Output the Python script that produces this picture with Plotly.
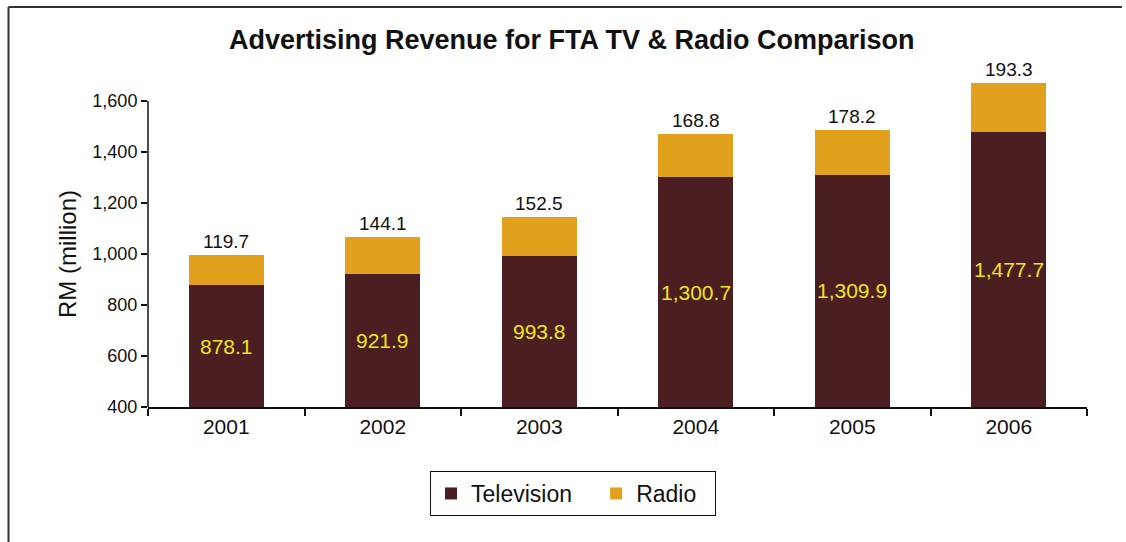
import plotly.graph_objects as go

# Advertising revenue (RM million), free-to-air TV and radio
years = ["2001", "2002", "2003", "2004", "2005", "2006"]
television = [878.1, 921.9, 993.8, 1300.7, 1309.9, 1477.7]
radio = [119.7, 144.1, 152.5, 168.8, 178.2, 193.3]
y_ticks = [400, 600, 800, 1000, 1200, 1400, 1600]

TV_COLOR = "#4B1E22"
RADIO_COLOR = "#E2A11C"
FONT = "Liberation Sans, Arial, Helvetica, sans-serif"
NBSP = "\u00a0"

W, H = 1126, 542
ML, MR, MT, MB = 148, 39, 60, 135
plot_h = H - MT - MB
pw = W - ML - MR
px_per_unit = 306 / 1200.0
y_min = 400
y_max = y_min + plot_h / px_per_unit

xpos = list(range(len(years)))

fig = go.Figure()
# trailing no-break spaces widen the gap between legend entries
fig.add_trace(go.Bar(x=xpos, y=television, name="Television" + NBSP * 3,
                     marker=dict(color=TV_COLOR, line=dict(width=0)), width=0.48))
fig.add_trace(go.Bar(x=xpos, y=radio, name="Radio" + NBSP * 2,
                     marker=dict(color=RADIO_COLOR, line=dict(width=0)), width=0.48))

annotations = []
for i, tv, rd in zip(xpos, television, radio):
    # TV value centred in the visible part of the TV segment
    annotations.append(dict(x=i, y=(y_min + tv) / 2, xref="x", yref="y",
                            text=f"{tv:,.1f}", showarrow=False,
                            font=dict(family=FONT, size=21, color="#F0E41E")))
    # radio value above the stack
    annotations.append(dict(x=i, y=tv + rd, xref="x", yref="y",
                            text=f"{rd:,.1f}", showarrow=False, yanchor="bottom",
                            yshift=1, font=dict(family=FONT, size=19, color="#111")))

# y-axis title
annotations.append(dict(x=(67 - ML) / pw, y=1000, xref="paper", yref="y",
                        xanchor="center", yanchor="middle",
                        text="RM (million)", textangle=-90, showarrow=False,
                        font=dict(family=FONT, size=24, color="#111")))
# chart title
annotations.append(dict(x=(572 - ML) / pw, y=(H - MB - 40) / plot_h,
                        xref="paper", yref="paper", xanchor="center", yanchor="middle",
                        text="<b>Advertising Revenue for FTA TV & Radio Comparison</b>",
                        showarrow=False,
                        font=dict(family=FONT, size=27, color="#111")))

shapes = [
    # y axis line, from 400 to 1,600
    dict(type="line", xref="paper", yref="y", x0=0, x1=0, y0=400, y1=1600,
         line=dict(color="#111", width=1.5)),
    # outer frame: left and top edges
    dict(type="line", xref="paper", yref="paper",
         x0=(8.5 - ML) / pw, x1=(8.5 - ML) / pw, y0=(H - MB - 7) / plot_h, y1=(H - MB - 560) / plot_h,
         line=dict(color="#333", width=2)),
    dict(type="line", xref="paper", yref="paper",
         x0=(8.5 - ML) / pw, x1=(1122 - ML) / pw, y0=(H - MB - 7) / plot_h, y1=(H - MB - 7) / plot_h,
         line=dict(color="#333", width=2)),
]

fig.update_layout(
    width=W, height=H,
    margin=dict(l=ML, r=MR, t=MT, b=MB, pad=0),
    barmode="stack",
    plot_bgcolor="white", paper_bgcolor="white",
    font=dict(family=FONT, color="#111"),
    showlegend=True,
    legend=dict(orientation="h", x=(573 - ML) / pw, xanchor="center",
                y=(H - MB - 471) / plot_h, yanchor="top",
                bordercolor="#111", borderwidth=1,
                font=dict(family=FONT, size=23, color="#111"),
                traceorder="normal"),
    annotations=annotations,
    shapes=shapes,
    xaxis=dict(range=[-0.5, len(years) - 0.5], tickvals=xpos, ticktext=years,
               showline=True, linecolor="#111", linewidth=1.5,
               ticks="", tickfont=dict(family=FONT, size=21, color="#111"),
               showgrid=False, zeroline=False,
               minor=dict(tickvals=[i - 0.5 for i in range(len(years) + 1)],
                          ticks="outside", ticklen=7, tickcolor="#111", tickwidth=1.5,
                          showgrid=False)),
    yaxis=dict(range=[y_min, y_max], tickvals=y_ticks,
               ticktext=[f"{v:,}" for v in y_ticks], showline=False,
               ticks="outside", ticklen=6, tickcolor="#111", tickwidth=1.5,
               tickfont=dict(family=FONT, size=18, color="#111"),
               showgrid=False, zeroline=False),
)

fig.write_html("out.html")
